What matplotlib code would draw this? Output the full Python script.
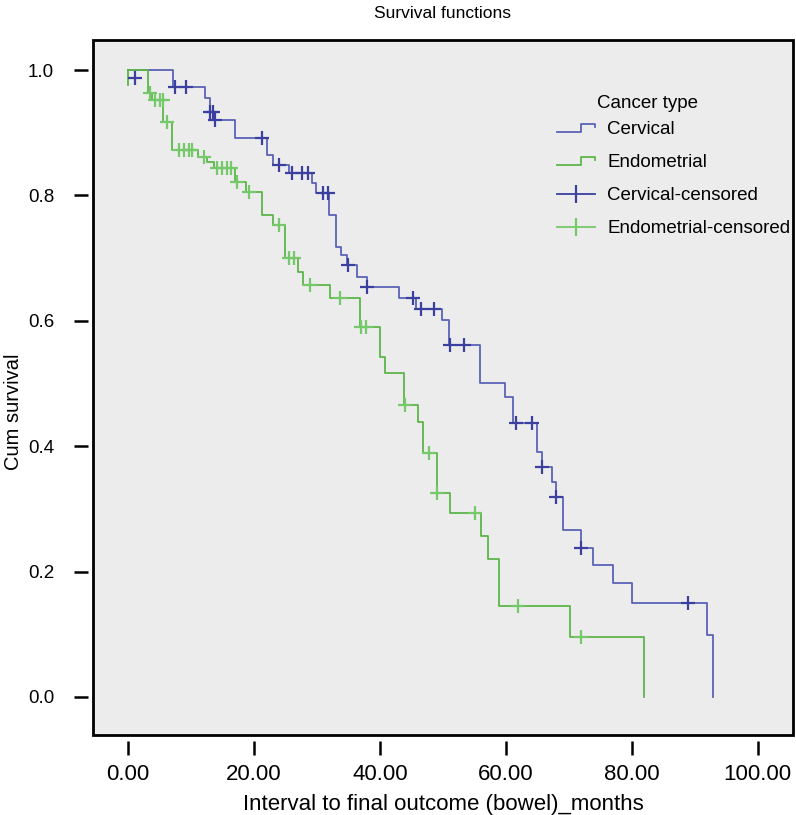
import matplotlib
matplotlib.use('Agg')
import matplotlib.pyplot as plt
from matplotlib.lines import Line2D
from matplotlib.patches import Rectangle
from matplotlib.legend_handler import HandlerBase

plt.rcParams['font.family'] = ['Liberation Sans', 'DejaVu Sans']

# step curves: event times and survival after each step
cerv_t = [0, 7.2, 12.2, 13.0, 13.6, 17.0, 22.0, 23.0, 25.5, 29.2, 29.8, 31.9, 33.1,
          33.8, 34.7, 36.3, 37.9, 43.0, 45.8, 49.9, 51.0, 55.9, 59.8, 61.1, 65.0,
          65.8, 67.3, 68.0, 69.1, 72.0, 73.9, 77.0, 80.0, 92.0, 92.9]
cerv_s = [1.0, 0.973, 0.955, 0.933, 0.920, 0.891, 0.864, 0.848, 0.835, 0.820, 0.804,
          0.769, 0.718, 0.705, 0.689, 0.670, 0.654, 0.637, 0.618, 0.601, 0.561, 0.500,
          0.479, 0.437, 0.391, 0.367, 0.343, 0.319, 0.266, 0.238, 0.210, 0.182,
          0.150, 0.099, 0.0]

endo_t = [0, 0, 3.2, 3.8, 5.6, 6.9, 11.1, 12.6, 13.6, 17.0, 18.7, 21.2, 23.0, 24.9,
          27.0, 27.8, 32.1, 36.8, 40.0, 40.8, 43.9, 46.0, 46.8, 49.0, 51.1, 56.1,
          57.2, 59.0, 70.2, 82.0]
endo_s = [0.976, 1.0, 0.963, 0.952, 0.917, 0.872, 0.861, 0.853, 0.844, 0.821, 0.806,
          0.769, 0.753, 0.700, 0.678, 0.657, 0.636, 0.590, 0.542, 0.517, 0.466, 0.439,
          0.389, 0.325, 0.293, 0.256, 0.220, 0.145, 0.096, 0.0]

# censored observations
cerv_ct = [1.1, 7.5, 9.2, 13.0, 13.5, 13.8, 21.2, 24.0, 26.0, 27.6, 28.5, 30.9, 31.7,
           35.0, 38.0, 45.2, 46.5, 48.6, 51.1, 53.3, 61.7, 64.1, 65.8, 68.0, 72.0, 88.9]
cerv_cs = [0.987, 0.973, 0.973, 0.933, 0.933, 0.920, 0.891, 0.848, 0.835, 0.835, 0.835,
           0.804, 0.804, 0.689, 0.654, 0.637, 0.618, 0.618, 0.561, 0.561, 0.437, 0.437,
           0.367, 0.319, 0.238, 0.150]
endo_ct = [3.4, 4.2, 5.0, 5.5, 6.1, 8.1, 8.9, 9.7, 10.2, 12.0, 14.1, 14.9, 15.7, 16.3,
           17.3, 19.2, 24.0, 25.5, 26.3, 28.9, 33.7, 37.0, 37.8, 44.0, 47.8, 49.0,
           55.1, 62.0, 72.0]
endo_cs = [0.963, 0.952, 0.952, 0.952, 0.917, 0.872, 0.872, 0.872, 0.872, 0.861, 0.844,
           0.844, 0.844, 0.844, 0.821, 0.806, 0.753, 0.700, 0.700, 0.657, 0.636, 0.590,
           0.590, 0.466, 0.389, 0.325, 0.293, 0.145, 0.096]

xticks = [0, 20, 40, 60, 80, 100]
yticks = [0, 0.2, 0.4, 0.6, 0.8, 1.0]
labels = ['Cervical', 'Endometrial', 'Cervical-censored', 'Endometrial-censored']

blue = '#5a62b6'
blue_c = '#3a3fa0'
green = '#5cb54a'
green_c = '#76c96a'


def staircase(t, s):
    xs, ys = [t[0]], [s[0]]
    for i in range(1, len(t)):
        xs += [t[i], t[i]]
        ys += [s[i - 1], s[i]]
    return xs, ys


class StepHandler(HandlerBase):
    # little "_|‾" glyph like the SPSS legend
    def create_artists(self, legend, orig_handle, xdescent, ydescent, width, height,
                       fontsize, trans):
        lo, hi = height * 0.2, height * 0.75
        xs = [-xdescent, -xdescent + width * 0.62, -xdescent + width * 0.62,
              -xdescent + width, -xdescent + width]
        ys = [lo, lo, hi, hi, hi - height * 0.2]
        ln = Line2D(xs, ys, color=orig_handle.get_color(), lw=1.3)
        ln.set_transform(trans)
        return [ln]


fig = plt.figure(figsize=(7.96, 8.15), dpi=100)
ax = fig.add_axes([0.117, 0.098, 0.879, 0.853])
ax.set_facecolor('#ececec')

x, y = staircase(cerv_t, cerv_s)
l1, = ax.plot(x, y, color=blue, lw=1.3)
x, y = staircase(endo_t, endo_s)
l2, = ax.plot(x, y, color=green, lw=1.3)
ax.plot(cerv_ct, cerv_cs, ls='none', marker='+', ms=10, mew=1.6, color=blue_c)
ax.plot(endo_ct, endo_cs, ls='none', marker='+', ms=10, mew=1.6, color=green_c)

ax.set_xlim(-5.56, 105.6)
ax.set_ylim(-0.061, 1.048)
ax.set_xticks(xticks)
ax.set_xticklabels(['%.2f' % v for v in xticks])
ax.set_yticks(yticks)
ax.set_yticklabels(['%.1f' % v for v in yticks])

for side in ['left', 'bottom']:
    ax.spines[side].set_position(('outward', 4))
    ax.spines[side].set_color('none')
for side in ['top', 'right']:
    ax.spines[side].set_visible(False)
ax.add_patch(Rectangle((0, 0), 1, 1, transform=ax.transAxes, fill=False,
                       ec='black', lw=2, clip_on=False, zorder=5))
ax.tick_params(direction='out', length=10, width=1.8)
ax.tick_params(axis='x', labelsize=16, pad=7)
ax.tick_params(axis='y', labelsize=13.5, pad=14)

ax.set_xlabel('Interval to final outcome (bowel)_months', fontsize=16, labelpad=6)
ax.set_ylabel('Cum survival', fontsize=14.5)
ax.yaxis.set_label_coords(-0.1, 0.465)
ax.set_title('Survival functions', fontsize=12.5, pad=16)

h3 = Line2D([], [], color=blue_c, lw=1.3, marker='|', ms=13, mew=1.6)
h4 = Line2D([], [], color=green_c, lw=1.3, marker='|', ms=13, mew=1.6)
ax.text(0.72, 0.908, 'Cancer type', transform=ax.transAxes, fontsize=13.5,
        ha='left', va='center')
leg = ax.legend([l1, l2, h3, h4], labels,
                handler_map={l1: StepHandler(), l2: StepHandler()},
                loc='upper right', bbox_to_anchor=(1.007, 0.894),
                frameon=False, fontsize=13.5, numpoints=1,
                handlelength=2.0, labelspacing=0.85, handletextpad=0.65,
                borderaxespad=0)

fig.savefig('out.png', dpi=100, facecolor='white')
